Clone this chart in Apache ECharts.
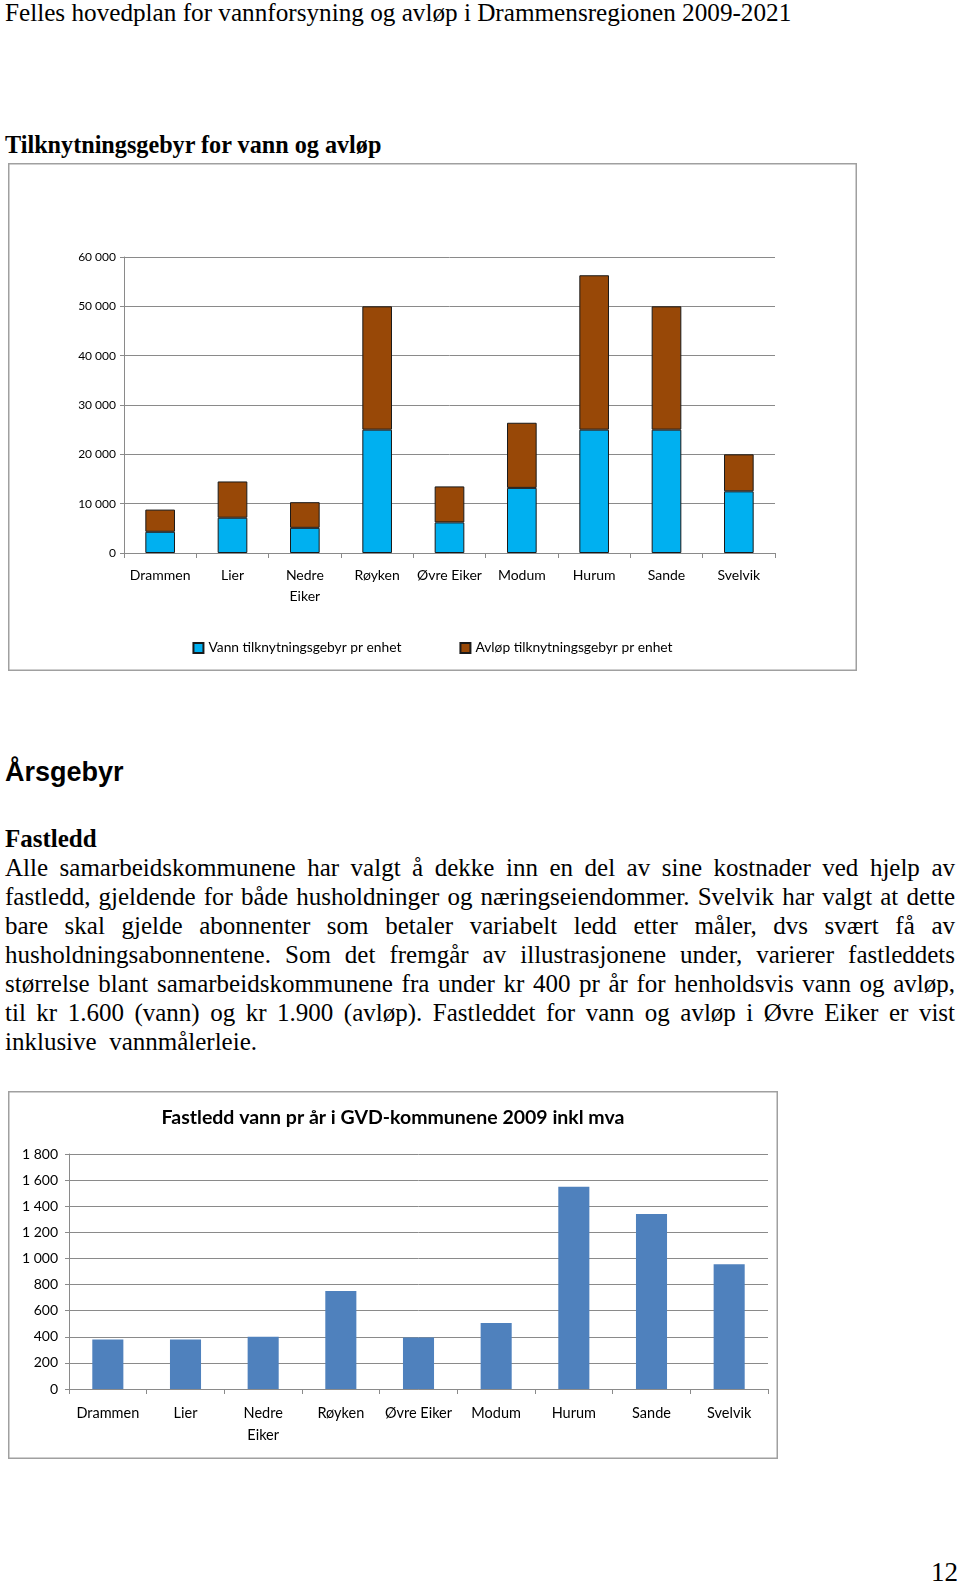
<!DOCTYPE html>
<html>
<head>
<meta charset="utf-8">
<script src="https://cdn.jsdelivr.net/npm/echarts@6/dist/echarts.min.js"></script>
<style>
  html, body { margin: 0; padding: 0; background: #fff; }
  body { width: 960px; height: 1585px; position: relative; overflow: hidden; }
  .t { position: absolute; color: #000; white-space: nowrap; }
  .serif { font-family: "Liberation Serif", "Times New Roman", serif; }
  #header { left: 5px; top: 0px; font-size: 25.2px; line-height: 25px; }
  #h1 { left: 5px; top: 133px; font-size: 24.2px; line-height: 24px; font-weight: bold; }
  #h2 { left: 5px; top: 759px; font-family: "Liberation Sans", Arial, sans-serif; font-size: 27px; line-height: 27px; font-weight: bold; }
  #para { position: absolute; left: 5px; top: 824px; width: 950px; font-size: 25px; line-height: 29px; color: #000; }
  #para .ln { text-align: justify; text-align-last: justify; white-space: normal; height: 29px; }
  #para .last { text-align: left; text-align-last: left; white-space: pre; }
  #para .b { font-weight: bold; text-align: left; text-align-last: left; }
  #pageno { right: 2px; top: 1559px; font-size: 27px; line-height: 27px; }
  #c1 { position: absolute; left: 8px; top: 163px; width: 849px; height: 508px; }
  #c2 { position: absolute; left: 8px; top: 1091px; width: 770px; height: 368px; }
</style>
</head>
<body>
<div id="header" class="t serif">Felles hovedplan for vannforsyning og avløp i Drammensregionen 2009-2021</div>
<div id="h1" class="t serif">Tilknytningsgebyr for vann og avløp</div>
<div id="c1"></div>
<div id="h2" class="t">Årsgebyr</div>
<div id="para" class="serif">
  <div class="ln b">Fastledd</div>
  <div class="ln">Alle samarbeidskommunene har valgt å dekke inn en del av sine kostnader ved hjelp av</div>
  <div class="ln">fastledd, gjeldende for både husholdninger og næringseiendommer. Svelvik har valgt at dette</div>
  <div class="ln">bare skal gjelde abonnenter som betaler variabelt ledd etter måler, dvs svært få av</div>
  <div class="ln">husholdningsabonnentene. Som det fremgår av illustrasjonene under, varierer fastleddets</div>
  <div class="ln">størrelse blant samarbeidskommunene fra under kr 400 pr år for henholdsvis vann og avløp,</div>
  <div class="ln">til kr 1.600 (vann) og kr 1.900 (avløp).  Fastleddet for vann og avløp i Øvre Eiker er vist</div>
  <div class="ln last">inklusive  vannmålerleie.</div>
</div>
<div id="c2"></div>
<div id="pageno" class="t serif">12</div>

<script>
// ---- data ----
const categories = ["Drammen", "Lier", "Nedre\nEiker", "Røyken", "Øvre Eiker", "Modum", "Hurum", "Sande", "Svelvik"];
const seriesNames1 = ["Vann tilknytningsgebyr pr enhet", "Avløp tilknytningsgebyr pr enhet"];
const vannTilknytning = [4300, 7150, 5100, 25000, 6200, 13200, 25000, 25000, 12500];
const avlopTilknytning = [4500, 7350, 5200, 25000, 7300, 13200, 31300, 25000, 7500];
const title2 = "Fastledd vann pr år i GVD-kommunene 2009 inkl mva";
const fastleddVann = [380, 380, 400, 750, 395, 505, 1550, 1340, 955];

const FONT = "Lato, 'Noto Sans', sans-serif";
const GRID_GRAY = "#8a8a8a";
const fmt = v => String(v).replace(/\B(?=(\d{3})+(?!\d))/g, " ");

// ---- chart 1 ----
const c1 = echarts.init(document.getElementById("c1"), null, { renderer: "canvas" });
c1.setOption({
  animation: false,
  backgroundColor: "#fff",
  graphic: [{
    type: "rect", silent: true, z: -1,
    shape: { x: 0.75, y: 0.75, width: 847.5, height: 506.5 },
    style: { fill: null, stroke: "#a0a0a0", lineWidth: 1.5 }
  }],
  grid: { left: 116, top: 94, width: 651, height: 296, containLabel: false },
  legend: {
    left: "center", top: 473,
    itemWidth: 10, itemHeight: 10, itemGap: 58,
    icon: "rect",
    textStyle: { fontFamily: FONT, fontSize: 13.8, color: "#000" },
    data: seriesNames1
  },
  xAxis: {
    type: "category", data: categories,
    axisLine: { lineStyle: { color: GRID_GRAY, width: 1 } },
    axisTick: { show: true, length: 5, lineStyle: { color: GRID_GRAY } },
    axisLabel: { fontFamily: FONT, fontSize: 14, color: "#000", margin: 12, lineHeight: 21, interval: 0 }
  },
  yAxis: {
    type: "value", min: 0, max: 60000, interval: 10000,
    axisLine: { show: true, lineStyle: { color: GRID_GRAY, width: 1 } },
    axisTick: { show: true, length: 4, lineStyle: { color: GRID_GRAY } },
    splitLine: { show: true, lineStyle: { color: GRID_GRAY, width: 1 } },
    axisLabel: { fontFamily: FONT, fontSize: 12, color: "#000", margin: 8, formatter: fmt }
  },
  series: [
    {
      name: seriesNames1[0], type: "bar", stack: "t", data: vannTilknytning, barWidth: "41%",
      itemStyle: { color: "#00B0F0", borderColor: "#1a1a1a", borderWidth: 1 }
    },
    {
      name: seriesNames1[1], type: "bar", stack: "t", data: avlopTilknytning, barWidth: "41%",
      itemStyle: { color: "#984807", borderColor: "#1a1a1a", borderWidth: 1 }
    }
  ]
});

// ---- chart 2 ----
const c2 = echarts.init(document.getElementById("c2"), null, { renderer: "canvas" });
c2.setOption({
  animation: false,
  backgroundColor: "#fff",
  graphic: [{
    type: "rect", silent: true, z: -1,
    shape: { x: 0.75, y: 0.75, width: 768.5, height: 366.5 },
    style: { fill: null, stroke: "#a0a0a0", lineWidth: 1.5 }
  }],
  title: {
    text: title2, left: "center", top: 12,
    textStyle: { fontFamily: FONT, fontSize: 19.5, fontWeight: "bold", color: "#000" }
  },
  grid: { left: 61, top: 63, right: 10, bottom: 70, containLabel: false },
  xAxis: {
    type: "category", data: categories,
    axisLine: { lineStyle: { color: GRID_GRAY, width: 1 } },
    axisTick: { show: true, length: 5, lineStyle: { color: GRID_GRAY } },
    axisLabel: { fontFamily: FONT, fontSize: 14.5, color: "#000", margin: 13, lineHeight: 22, interval: 0 }
  },
  yAxis: {
    type: "value", min: 0, max: 1800, interval: 200,
    axisLine: { show: true, lineStyle: { color: GRID_GRAY, width: 1 } },
    axisTick: { show: true, length: 4, lineStyle: { color: GRID_GRAY } },
    splitLine: { show: true, lineStyle: { color: GRID_GRAY, width: 1 } },
    axisLabel: { fontFamily: FONT, fontSize: 14, color: "#000", margin: 11, formatter: fmt }
  },
  series: [{
    type: "bar", data: fastleddVann, barWidth: "40%",
    itemStyle: { color: "#4F81BD" }
  }]
});
</script>
</body>
</html>
